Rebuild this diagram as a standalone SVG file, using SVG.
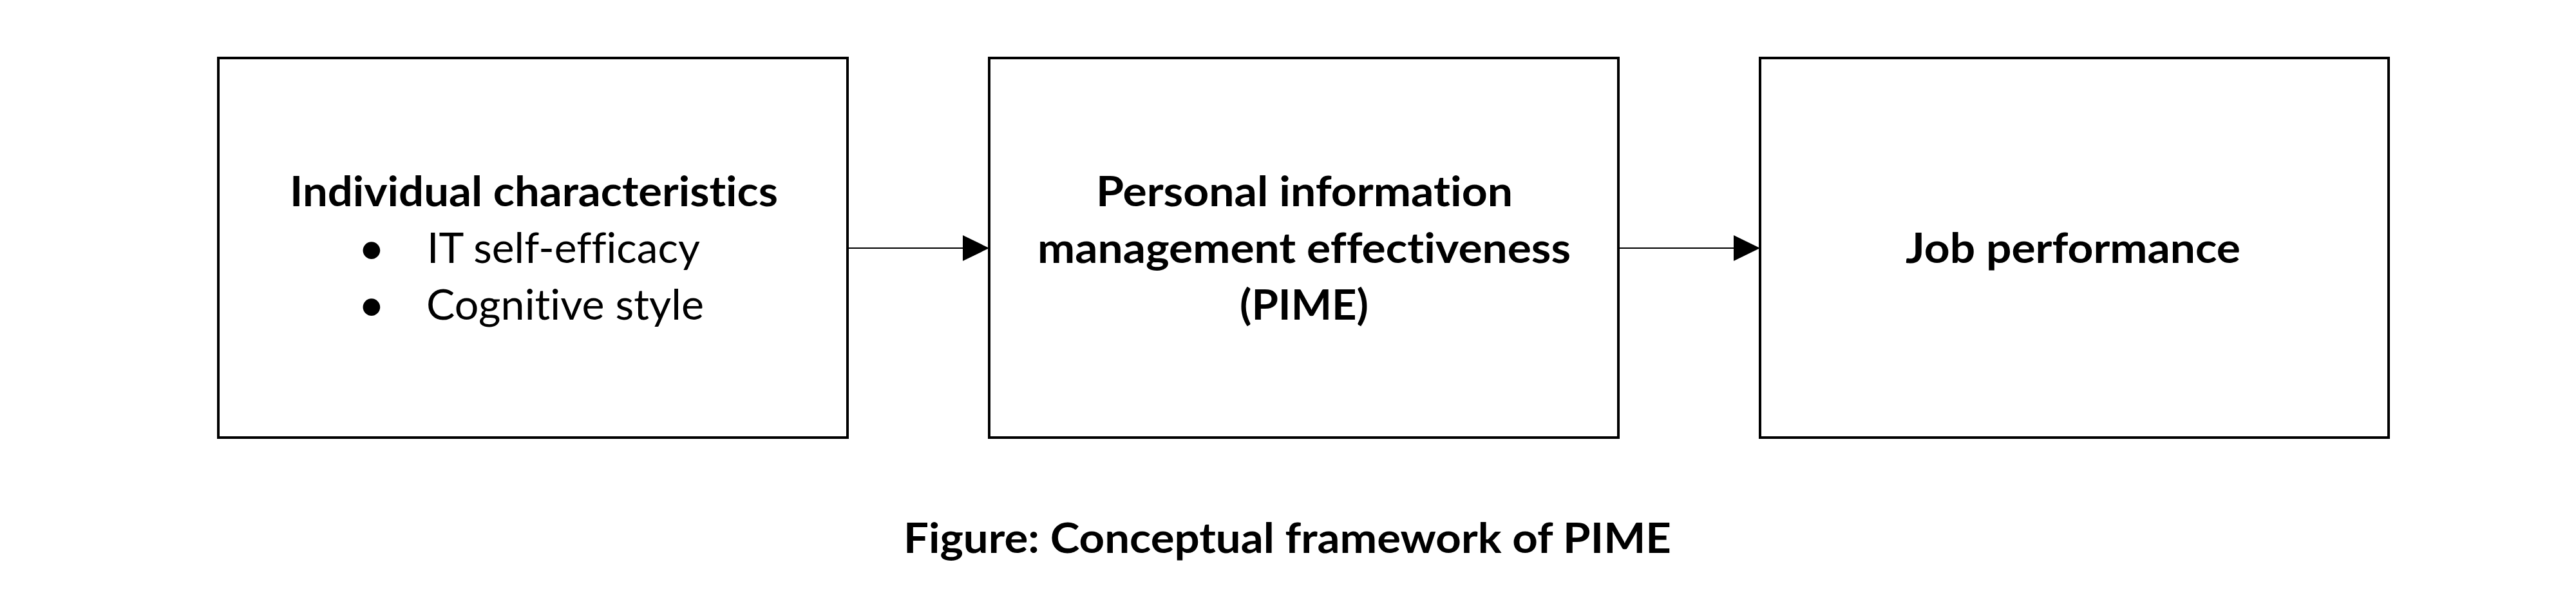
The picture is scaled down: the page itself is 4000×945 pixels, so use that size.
<svg xmlns="http://www.w3.org/2000/svg" width="4000" height="945" viewBox="0 0 4000 945">
<defs>
<style>
.box{fill:#fff;stroke:#000;stroke-width:4}
.t{font-family:Lato,'Open Sans','Liberation Sans',sans-serif;font-size:65px;fill:#000;font-variant-ligatures:none;font-feature-settings:"liga" 0,"dlig" 0}
.b{font-weight:bold}
.c{text-anchor:middle}
.bul{font-size:72px}
.edge{stroke:#000;stroke-width:2;fill:none}
.head{fill:#000;stroke:none}
</style>
</defs>
<rect width="4000" height="945" fill="#fff"/>
<g id="connectors">
<line class="edge" x1="1316" y1="385" x2="1497" y2="385"/>
<polygon class="head" points="1495,365 1536,385 1495,405"/>
<line class="edge" x1="2513" y1="385" x2="2694" y2="385"/>
<polygon class="head" points="2692,365 2733,385 2692,405"/>
</g>
<g id="node-individual">
<rect class="box" x="339" y="90" width="977" height="589"/>
<text class="t b" x="450" y="320" textLength="758" lengthAdjust="spacingAndGlyphs">Individual characteristics</text>
<text class="t c bul" x="577" y="410">•</text>
<text class="t" x="663" y="408" textLength="424" lengthAdjust="spacingAndGlyphs">IT self-efficacy</text>
<text class="t c bul" x="577" y="498">•</text>
<text class="t" x="662" y="496" textLength="431" lengthAdjust="spacingAndGlyphs">Cognitive style</text>
</g>
<g id="node-pime">
<rect class="box" x="1536" y="90" width="977" height="589"/>
<text class="t b" x="1702" y="320" textLength="647" lengthAdjust="spacingAndGlyphs">Personal information</text>
<text class="t b" x="1611" y="408" textLength="828" lengthAdjust="spacingAndGlyphs">management effectiveness</text>
<text class="t b" x="1925" y="496" textLength="200" lengthAdjust="spacingAndGlyphs">(PIME)</text>
</g>
<g id="node-job">
<rect class="box" x="2733" y="90" width="976" height="589"/>
<text class="t b" x="2959" y="408" textLength="520" lengthAdjust="spacingAndGlyphs">Job performance</text>
</g>
<g id="caption">
<text class="t b" x="1403" y="858" textLength="1192" lengthAdjust="spacingAndGlyphs">Figure: Conceptual framework of PIME</text>
</g>
</svg>
